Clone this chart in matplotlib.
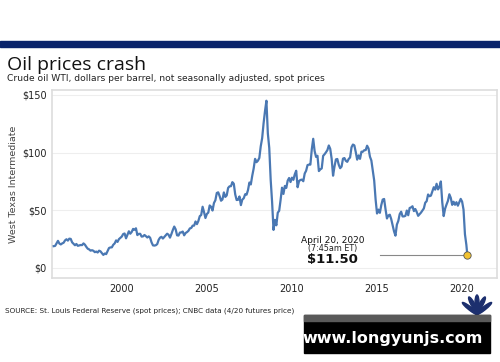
import numpy as np
import matplotlib
matplotlib.use('Agg')
import matplotlib.pyplot as plt
from matplotlib.patches import Rectangle, Ellipse

# monthly WTI spot prices, Jan 1996 .. Apr 2020
wti = {
    1996: [18.9, 19.1, 21.3, 23.5, 21.2, 20.4, 21.3, 21.9, 23.9, 24.9, 23.7, 25.4],
    1997: [25.2, 22.2, 20.9, 19.7, 20.8, 19.2, 19.6, 19.9, 19.8, 21.3, 20.2, 18.3],
    1998: [16.7, 16.1, 15.0, 15.4, 14.9, 13.7, 14.2, 13.4, 15.0, 14.4, 12.9, 11.3],
    1999: [12.5, 12.0, 14.7, 17.3, 17.8, 17.9, 20.1, 21.3, 23.9, 22.6, 25.0, 26.1],
    2000: [27.2, 29.4, 29.9, 25.7, 28.8, 31.8, 29.7, 31.2, 33.9, 33.1, 34.4, 28.5],
    2001: [29.6, 29.6, 27.2, 27.4, 28.6, 27.6, 26.4, 27.4, 26.2, 22.2, 19.6, 19.4],
    2002: [19.7, 20.7, 24.4, 26.3, 27.0, 25.5, 26.9, 28.4, 29.7, 28.8, 26.3, 29.4],
    2003: [32.9, 35.9, 33.5, 28.3, 28.1, 30.7, 30.8, 31.6, 28.3, 30.3, 31.1, 32.2],
    2004: [34.3, 34.7, 36.7, 36.7, 40.3, 38.0, 40.7, 44.9, 45.9, 53.1, 48.5, 43.3],
    2005: [46.8, 48.0, 54.2, 53.0, 49.8, 56.3, 58.7, 65.0, 65.6, 62.3, 58.3, 59.4],
    2006: [65.5, 61.6, 62.9, 69.4, 70.8, 70.9, 74.4, 73.0, 63.8, 58.9, 59.1, 62.0],
    2007: [54.5, 59.3, 60.4, 63.9, 63.5, 67.5, 74.1, 72.4, 79.9, 86.2, 94.6, 91.7],
    2008: [93.0, 95.4, 105.5, 112.6, 125.4, 136.0, 145.0, 116.7, 104.1, 76.6, 57.3, 33.0],
    2009: [41.7, 37.0, 47.9, 49.6, 59.0, 69.6, 64.2, 71.1, 69.4, 75.7, 78.0, 74.5],
    2010: [78.3, 76.4, 81.2, 84.3, 70.0, 75.3, 76.3, 76.6, 75.2, 81.9, 84.3, 89.2],
    2011: [89.6, 89.6, 102.9, 112.0, 101.3, 96.3, 97.3, 84.0, 85.5, 86.3, 97.2, 98.6],
    2012: [100.3, 102.2, 106.2, 103.3, 94.7, 80.0, 87.9, 94.1, 94.5, 89.5, 86.5, 87.9],
    2013: [94.8, 95.3, 92.9, 92.0, 94.5, 95.8, 104.6, 107.0, 106.3, 100.5, 93.9, 97.6],
    2014: [94.6, 100.8, 100.8, 102.1, 102.2, 106.0, 103.6, 96.5, 93.2, 84.4, 75.8, 59.3],
    2015: [47.2, 50.6, 47.8, 54.5, 59.3, 59.8, 50.9, 42.9, 45.5, 46.2, 42.4, 37.2],
    2016: [31.7, 28.0, 37.6, 40.8, 46.7, 48.8, 44.7, 44.7, 45.2, 49.8, 45.7, 52.0],
    2017: [52.5, 53.5, 49.3, 51.1, 48.5, 45.2, 46.6, 48.0, 49.8, 51.6, 56.6, 57.9],
    2018: [63.7, 62.2, 62.7, 66.3, 70.0, 67.9, 73.0, 68.1, 70.2, 75.0, 57.0, 45.0],
    2019: [51.4, 55.0, 58.2, 63.9, 60.8, 54.7, 57.4, 54.8, 57.0, 54.0, 57.0, 59.9],
    2020: [57.5, 50.5, 29.2, 20.0],
}
crash_date = 2020 + 3.65 / 12
crash_price = 11.50

years = []
prices = []
for yr, vals in wti.items():
    for m, v in enumerate(vals):
        years.append(yr + m / 12)
        prices.append(v)
years.append(crash_date)
prices.append(crash_price)

y_ticks = [0, 50, 100, 150]
x_ticks = [2000, 2005, 2010, 2015, 2020]

fig = plt.figure(figsize=(5, 3.62), dpi=100)
fig.patch.set_facecolor('white')

# navy header bar
fig.add_artist(Rectangle((0, 1 - 47 / 362), 1, 6 / 362, transform=fig.transFigure,
                         color='#0a246b', zorder=5))

fig.text(0.014, 1 - 70 / 362, 'Oil prices crash', fontsize=14, color='#111111',
         family='Open Sans')
fig.text(0.014, 1 - 81 / 362,
         'Crude oil WTI, dollars per barrel, not seasonally adjusted, spot prices',
         fontsize=6.6, color='#222222')

ax = fig.add_axes([52 / 500, 1 - 278 / 362, 445 / 500, 188 / 362])
ax.plot(years, prices, color='#4a78b3', lw=1.6, zorder=3)
ax.plot([2015.2, crash_date], [crash_price, crash_price], color='#888888', lw=0.8, zorder=2)
ax.scatter([crash_date], [crash_price], s=28, color='#f2c230', edgecolor='#555555',
           linewidth=0.6, zorder=4)

ax.set_xlim(1995.9, 2022.05)
ax.set_ylim(-8.7, 154.3)
ax.set_yticks(y_ticks)
ax.set_yticklabels(['$%d' % v for v in y_ticks])
ax.set_xticks(x_ticks)
ax.tick_params(length=0, labelsize=7, labelcolor='#222222', pad=4)
ax.grid(axis='y', color='#eeeeee', lw=0.8)
ax.set_axisbelow(True)
for s in ax.spines.values():
    s.set_color('#dddddd')
    s.set_linewidth(1.2)
ax.set_ylabel('West Texas Intermediate', fontsize=6.8, color='#444444', labelpad=3)

ax.text(2012.4, 23.4, 'April 20, 2020', ha='center', va='center', fontsize=6.5,
        color='#111111')
ax.text(2012.4, 16.6, '(7:45am ET)', ha='center', va='center', fontsize=5.8,
        color='#222222')
ax.text(2012.4, 7.6, '$11.50', ha='center', va='center', fontsize=9.5,
        fontweight='bold', color='#111111')

fig.text(0.01, 1 - 313 / 362,
         'SOURCE: St. Louis Federal Reserve (spot prices); CNBC data (4/20 futures price)',
         fontsize=5.2, color='#222222')

# CNBC peacock (rough)
for ang in [-60, -30, 0, 30, 60]:
    a = np.deg2rad(ang)
    fig.add_artist(Ellipse((477 / 500 + 0.016 * np.sin(a), 1 - 314 / 362 + 0.03 * np.cos(a)),
                           0.008, 0.045, angle=-ang * 0.7, transform=fig.transFigure,
                           color='#1c2f6e', zorder=5))
fig.text(477 / 500, 1 - 318 / 362, 'CNBC', ha='center', va='center', fontsize=4.5,
         fontweight='bold', color='#1c2f6e', zorder=5)

# watermark box
fig.add_artist(Rectangle((304 / 500, 1 - 353 / 362), 186 / 500, 38 / 362,
                         transform=fig.transFigure, color='black', zorder=6))
fig.add_artist(Rectangle((304 / 500, 1 - 321 / 362), 186 / 500, 6 / 362,
                         transform=fig.transFigure, color='#5a5a5a', zorder=7))
fig.text(393 / 500, 1 - 339 / 362, 'www.longyunjs.com', ha='center', va='center',
         fontsize=11.5, fontweight='bold', color='white', zorder=8)

fig.savefig('out.png', dpi=100)
